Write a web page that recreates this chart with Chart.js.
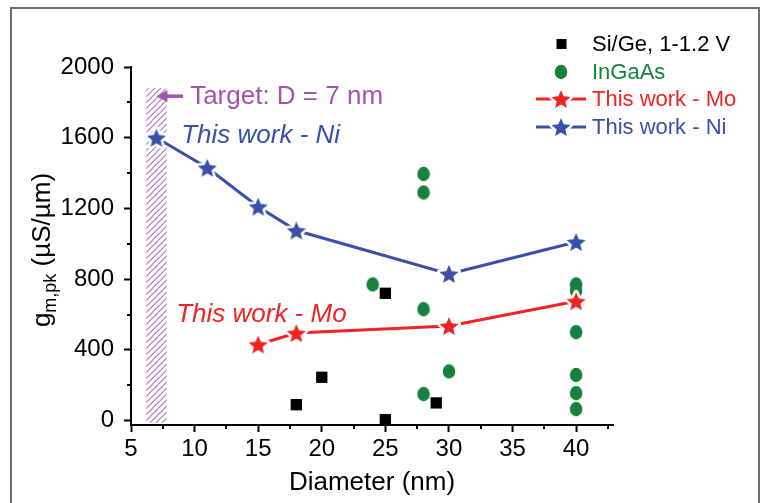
<!DOCTYPE html>
<html>
<head>
<meta charset="utf-8">
<title>gm,pk vs diameter</title>
<script src="https://cdn.jsdelivr.net/npm/chart.js@4.4.0/dist/chart.umd.min.js"></script>
<style>
  html, body { margin: 0; padding: 0; background: #fff; }
  #wrap { width: 760px; height: 503px; }
</style>
</head>
<body>
<div id="wrap"><canvas id="gmChart" width="760" height="503"></canvas></div>
<script>
/* ======================
DATA
====================== */

const niDiam = [7, 11, 15, 18, 30, 40];
const niGm = [1600, 1430, 1210, 1075, 830, 1010];

const moDiam = [15, 18, 30, 40];
const moGm = [430, 495, 535, 675];

const siGeDiam = [18, 20, 25, 25, 29];
const siGeGm = [90, 245, 720, 5, 100];

const inGaAsDiam = [24, 28, 28, 28, 28, 30, 40, 40, 40, 40, 40, 40];
const inGaAsGm = [770, 1395, 1290, 630, 150, 278, 770, 735, 500, 258, 155, 65];

const seriesLabels = ["Si/Ge, 1-1.2 V", "InGaAs", "This work - Mo", "This work - Ni"];

const xTicks = [5, 10, 15, 20, 25, 30, 35, 40];
const xMinor = [7.5, 12.5, 17.5, 22.5, 27.5, 32.5, 37.5, 42.5];
const yTicks = [0, 400, 800, 1200, 1600, 2000];
const yMinor = [200, 600, 1000, 1400, 1800];

// target diameter band (nm) and its height
const targetBand = [6.2, 7.8];
const targetTop = 1880;

/* ======================
STYLE
====================== */

const FONT = '"Liberation Sans", Arial, sans-serif';
const BLUE = "#3a50a8";
const RED = "#ee2424";
const GREEN = "#16803f";
const PURPLE = "#a055ab";

function toPoints(xs, ys) {
  return xs.map((x, i) => ({ x: x, y: ys[i] }));
}

function makeStar(color, outer) {
  const size = Math.ceil(outer * 2 + 8);
  const c = document.createElement("canvas");
  c.width = size;
  c.height = size;
  const ctx = c.getContext("2d");
  const cx = size / 2;
  const cy = size / 2 + outer * 0.1;
  ctx.beginPath();
  for (let i = 0; i < 10; i++) {
    const r = i % 2 === 0 ? outer : outer * 0.45;
    const a = -Math.PI / 2 + (i * Math.PI) / 5;
    ctx.lineTo(cx + r * Math.cos(a), cy + r * Math.sin(a));
  }
  ctx.closePath();
  ctx.lineJoin = "round";
  ctx.strokeStyle = "#fff";
  ctx.lineWidth = 5;
  ctx.stroke();
  ctx.fillStyle = color;
  ctx.fill();
  return c;
}

function makeDot(color) {
  const c = document.createElement("canvas");
  c.width = 14;
  c.height = 16;
  const ctx = c.getContext("2d");
  ctx.fillStyle = color;
  ctx.beginPath();
  ctx.ellipse(7, 8, 6.3, 7.2, 0, 0, Math.PI * 2);
  ctx.fill();
  return c;
}

const niStar = makeStar(BLUE, 10);
const moStar = makeStar(RED, 10);
const greenDot = makeDot(GREEN);

/* ======================
PLUGINS
====================== */

const framePlugin = {
  id: "frame",
  beforeDraw(chart) {
    const ctx = chart.ctx;
    ctx.save();
    ctx.fillStyle = "#fff";
    ctx.fillRect(0, 0, chart.width, chart.height);
    ctx.strokeStyle = "#6e6e6e";
    ctx.lineWidth = 2;
    ctx.beginPath();
    ctx.moveTo(11, chart.height);
    ctx.lineTo(11, 8);
    ctx.lineTo(759, 8);
    ctx.lineTo(759, chart.height);
    ctx.stroke();
    ctx.restore();
  },
};

const targetPlugin = {
  id: "target",
  beforeDatasetsDraw(chart) {
    const { ctx, scales } = chart;
    const x1 = scales.x.getPixelForValue(targetBand[0]);
    const x2 = scales.x.getPixelForValue(targetBand[1]);
    const yT = scales.y.getPixelForValue(targetTop);
    const yB = scales.y.getPixelForValue(-12);
    ctx.save();
    ctx.beginPath();
    ctx.rect(x1, yT, x2 - x1, yB - yT);
    ctx.clip();
    ctx.strokeStyle = "#b071c2";
    ctx.lineWidth = 1.1;
    ctx.beginPath();
    for (let y = yT - 30; y < yB + 30; y += 6) {
      ctx.moveTo(x1 - 2, y + (x2 - x1) + 2);
      ctx.lineTo(x2 + 2, y - 2);
    }
    ctx.stroke();
    ctx.restore();
  },
  afterDatasetsDraw(chart) {
    const { ctx, scales } = chart;
    const x = scales.x;
    const y = scales.y;
    ctx.save();
    ctx.textBaseline = "middle";
    ctx.textAlign = "left";

    // arrow + target note
    const ay = y.getPixelForValue(1835);
    const tip = x.getPixelForValue(7);
    ctx.strokeStyle = PURPLE;
    ctx.fillStyle = PURPLE;
    ctx.lineWidth = 3.5;
    ctx.beginPath();
    ctx.moveTo(tip + 8, ay);
    ctx.lineTo(x.getPixelForValue(9.1), ay);
    ctx.stroke();
    ctx.beginPath();
    ctx.moveTo(tip, ay);
    ctx.lineTo(tip + 11, ay - 6);
    ctx.lineTo(tip + 11, ay + 6);
    ctx.closePath();
    ctx.fill();
    ctx.font = "26px " + FONT;
    ctx.fillText("Target: D = 7 nm", x.getPixelForValue(9.65), ay + 1);

    ctx.font = "italic 26px " + FONT;
    ctx.fillStyle = BLUE;
    ctx.fillText("This work - Ni", x.getPixelForValue(8.95), y.getPixelForValue(1612));
    ctx.fillStyle = RED;
    ctx.fillText("This work - Mo", x.getPixelForValue(8.55), y.getPixelForValue(598));
    ctx.restore();
  },
};

const axisExtrasPlugin = {
  id: "axisExtras",
  afterDraw(chart) {
    const { ctx, scales, chartArea } = chart;
    ctx.save();
    // minor ticks
    ctx.strokeStyle = "#000";
    ctx.lineWidth = 2;
    ctx.beginPath();
    yMinor.forEach((v) => {
      const py = Math.round(scales.y.getPixelForValue(v));
      ctx.moveTo(chartArea.left, py);
      ctx.lineTo(chartArea.left - 4, py);
    });
    xMinor.forEach((v) => {
      const px = Math.round(scales.x.getPixelForValue(v));
      ctx.moveTo(px, chartArea.bottom);
      ctx.lineTo(px, chartArea.bottom + 4);
    });
    ctx.stroke();

    // y title with subscript
    const big = "26px " + FONT;
    const small = "18px " + FONT;
    ctx.fillStyle = "#000";
    ctx.textBaseline = "alphabetic";
    ctx.textAlign = "left";
    ctx.font = big;
    const wG = ctx.measureText("g").width;
    const wRest = ctx.measureText(" (\u00b5S/\u00b5m)").width;
    ctx.font = small;
    const wSub = ctx.measureText("m,pk").width;
    const total = wG + wSub + wRest;
    const cy = (chartArea.top + chartArea.bottom) / 2 + 4;
    ctx.translate(50, cy);
    ctx.rotate(-Math.PI / 2);
    let px = -total / 2;
    ctx.font = big;
    ctx.fillText("g", px, 0);
    px += wG;
    ctx.font = small;
    ctx.fillText("m,pk", px, 6);
    px += wSub;
    ctx.font = big;
    ctx.fillText(" (\u00b5S/\u00b5m)", px, 0);
    ctx.restore();
  },
};

const legendPlugin = {
  id: "sideLegend",
  afterDraw(chart) {
    const ctx = chart.ctx;
    const rows = [44, 72, 99, 127];
    const symX = 561;
    const textX = 592;
    ctx.save();
    ctx.font = "22px " + FONT;
    ctx.textBaseline = "middle";
    ctx.textAlign = "left";
    chart.data.datasets.forEach((ds, i) => {
      const y = rows[i];
      if (ds.showLine) {
        ctx.strokeStyle = ds.borderColor;
        ctx.lineWidth = 3;
        ctx.beginPath();
        ctx.moveTo(symX - 25, y);
        ctx.lineTo(symX + 25, y);
        ctx.stroke();
      }
      const img = ds.pointStyle;
      if (typeof img === "string") {
        ctx.fillStyle = ds.backgroundColor;
        ctx.fillRect(symX - 4.5, y - 5, 10, 10);
      } else {
        ctx.drawImage(img, symX - img.width / 2, y - img.height / 2);
      }
      ctx.fillStyle = ds.labelColor;
      ctx.fillText(ds.label, textX, y + 1);
    });
    ctx.restore();
  },
};

/* ======================
CHART
====================== */

const gmChart = new Chart(document.getElementById("gmChart"), {
  type: "scatter",
  data: {
    datasets: [
      {
        label: seriesLabels[0],
        data: toPoints(siGeDiam, siGeGm),
        pointStyle: "rect",
        pointRadius: 8,
        backgroundColor: "#000",
        borderColor: "#000",
        borderWidth: 0,
        labelColor: "#000",
        order: 2,
      },
      {
        label: seriesLabels[1],
        data: toPoints(inGaAsDiam, inGaAsGm),
        pointStyle: greenDot,
        backgroundColor: GREEN,
        borderColor: GREEN,
        labelColor: GREEN,
        order: 2,
      },
      {
        label: seriesLabels[2],
        data: toPoints(moDiam, moGm),
        showLine: true,
        borderColor: RED,
        backgroundColor: RED,
        borderWidth: 3,
        pointStyle: moStar,
        labelColor: RED,
        order: 0,
      },
      {
        label: seriesLabels[3],
        data: toPoints(niDiam, niGm),
        showLine: true,
        borderColor: BLUE,
        backgroundColor: BLUE,
        borderWidth: 3,
        pointStyle: niStar,
        labelColor: BLUE,
        order: 0,
      },
    ],
  },
  options: {
    responsive: false,
    animation: false,
    layout: { padding: { top: 67, right: 147, left: 0, bottom: 0 } },
    plugins: {
      legend: { display: false },
      tooltip: { enabled: false },
    },
    scales: {
      x: {
        type: "linear",
        min: 5,
        max: 42.9,
        afterBuildTicks: (scale) => {
          scale.ticks = xTicks.map((v) => ({ value: v }));
        },
        afterFit: (scale) => {
          scale.height = 78;
        },
        grid: {
          drawOnChartArea: false,
          drawTicks: true,
          tickLength: 7,
          tickWidth: 2,
          tickColor: "#000",
        },
        border: { color: "#000", width: 2 },
        ticks: {
          color: "#000",
          padding: 3,
          maxRotation: 0,
          callback: (v) => String(v),
          font: { family: FONT, size: 24 },
        },
        title: {
          display: true,
          text: "Diameter (nm)",
          color: "#000",
          padding: { top: 0, bottom: 5 },
          font: { family: FONT, size: 26 },
        },
      },
      y: {
        type: "linear",
        min: -25,
        max: 2000,
        afterBuildTicks: (scale) => {
          scale.ticks = yTicks.map((v) => ({ value: v }));
        },
        afterFit: (scale) => {
          scale.width = 131;
        },
        grid: {
          drawOnChartArea: false,
          drawTicks: true,
          tickLength: 7,
          tickWidth: 2,
          tickColor: "#000",
        },
        border: { color: "#000", width: 2 },
        ticks: {
          color: "#000",
          padding: 10,
          callback: (v) => String(v),
          font: { family: FONT, size: 24 },
        },
      },
    },
  },
  plugins: [framePlugin, targetPlugin, axisExtrasPlugin, legendPlugin],
});
</script>
</body>
</html>
